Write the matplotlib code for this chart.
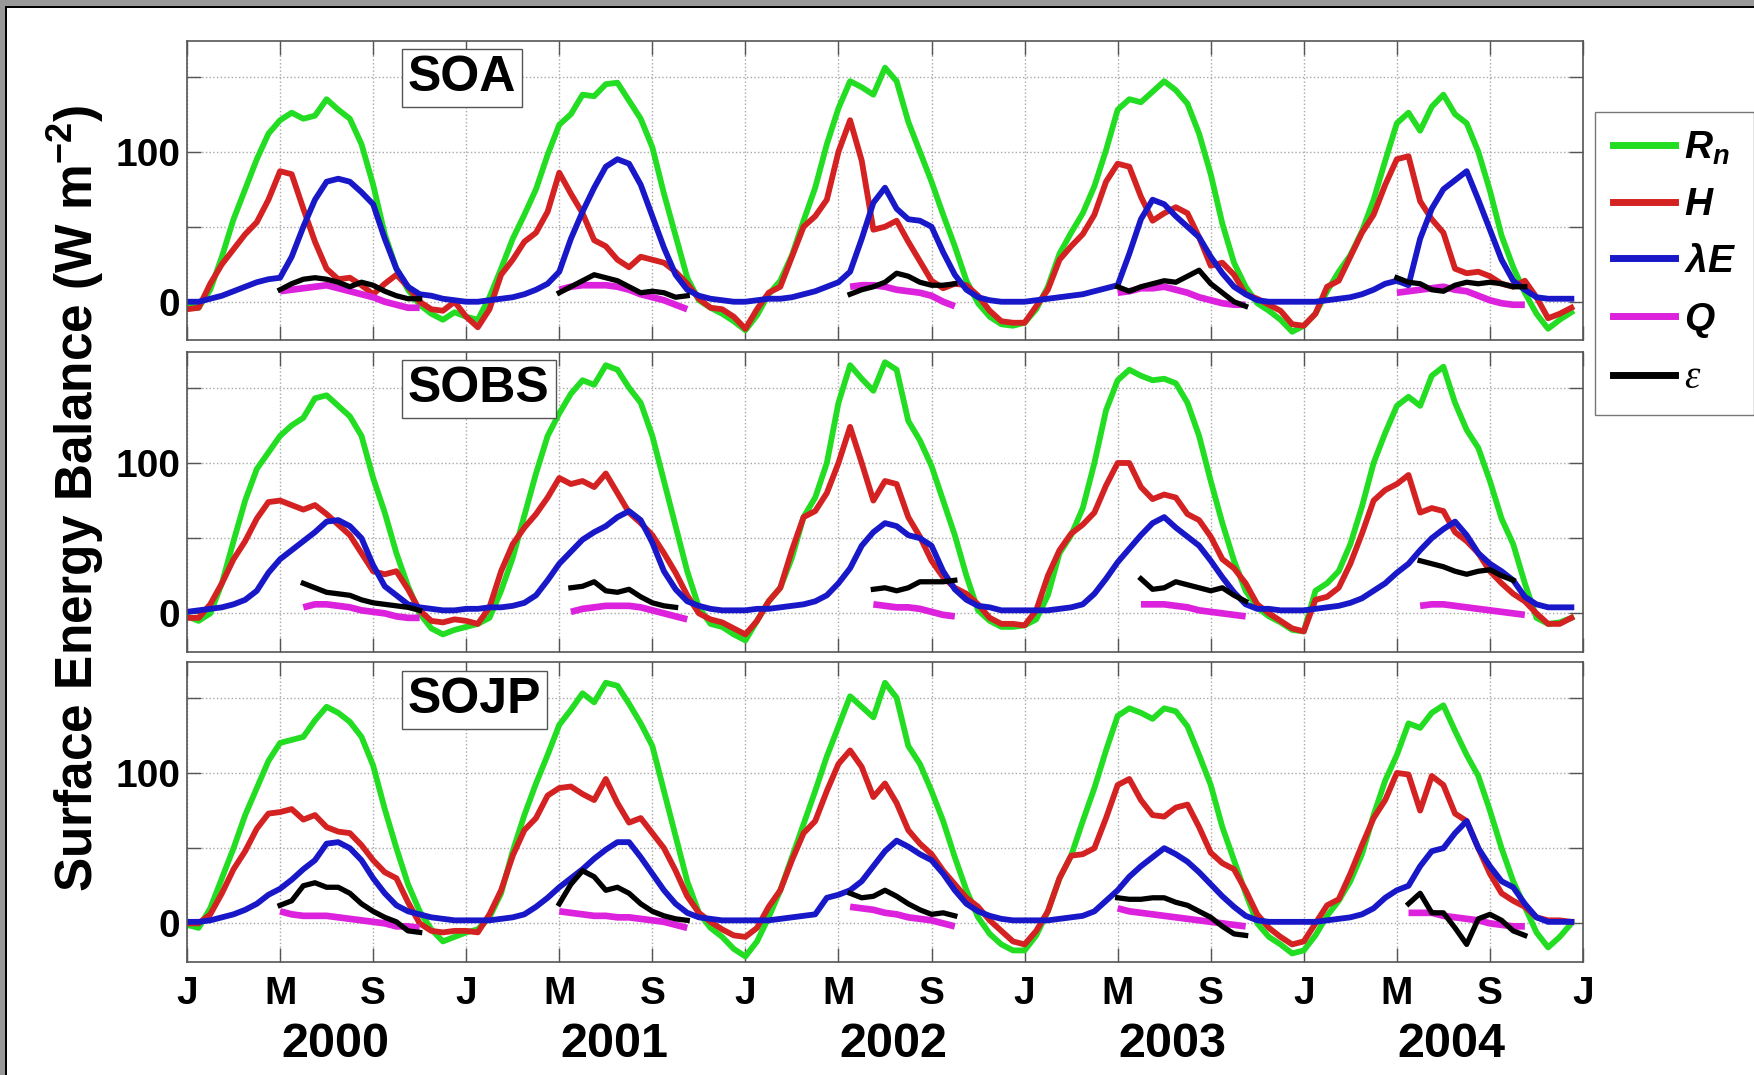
import numpy as np
import matplotlib
matplotlib.use("Agg")
import matplotlib.pyplot as plt
from matplotlib.patches import Rectangle
from matplotlib.lines import Line2D

plt.rcParams['font.family'] = 'Liberation Sans'
plt.rcParams['font.weight'] = 'bold'
plt.rcParams['mathtext.fontset'] = 'custom'
plt.rcParams['mathtext.rm'] = 'Liberation Sans:bold'
plt.rcParams['mathtext.it'] = 'Liberation Sans:italic:bold'
plt.rcParams['mathtext.bf'] = 'Liberation Sans:bold'

# half-month steps, Jan 2000 .. Dec 2004
years = [2000, 2001, 2002, 2003, 2004]
STEPS = 24

sites = ['SOA', 'SOBS', 'SOJP']
tick_letters = ['J', 'M', 'S']

# ---- SOA ----
soa_rn = [-2, -4, 8, 30, 55, 75, 95, 112, 121, 126, 122, 124, 135, 128, 122, 105, 78, 45, 22, 8, -2, -8, -12, -7,
          -10, -12, 3, 22, 42, 58, 75, 98, 118, 125, 138, 137, 145, 146, 134, 122, 103, 72, 44, 16, 1, -4, -8, -13,
          -19, -9, 5, 14, 31, 54, 76, 105, 129, 147, 143, 138, 156, 147, 120, 100, 80, 58, 37, 14, -1, -10, -15, -16,
          -14, -5, 10, 32, 46, 59, 77, 101, 128, 135, 133, 140, 147, 141, 132, 112, 85, 52, 26, 10, -1, -6, -12, -20,
          -16, -8, 7, 20, 31, 47, 68, 94, 119, 126, 114, 130, 138, 125, 119, 100, 74, 44, 23, 6, -8, -18, -12, -7]
soa_h = [-5, -4, 12, 25, 35, 45, 53, 68, 87, 85, 62, 40, 22, 15, 16, 11, 5, 12, 18, 10, 0, -5, -6, 0,
         -10, -17, -5, 18, 28, 40, 46, 60, 86, 72, 59, 41, 37, 28, 23, 30, 28, 26, 20, 12, 2, -4, -5, -10,
         -18, -5, 6, 10, 30, 50, 57, 68, 100, 121, 94, 48, 50, 54, 40, 27, 14, 9, 12, 11, 4, -6, -13, -14,
         -14, -3, 8, 28, 37, 45, 58, 80, 92, 90, 70, 54, 59, 63, 59, 43, 24, 26, 18, 5, 2, -2, -6, -15,
         -16, -8, 10, 14, 30, 46, 58, 78, 95, 97, 67, 55, 46, 22, 19, 20, 17, 12, 10, 14, 3, -11, -8, -4]
soa_le = [0, 0, 2, 4, 7, 10, 13, 15, 16, 30, 50, 68, 80, 82, 80, 73, 65, 42, 22, 10, 5, 4, 2, 1,
          0, 0, 1, 2, 3, 5, 8, 12, 20, 42, 60, 76, 90, 95, 92, 78, 57, 36, 18, 8, 4, 2, 1, 0,
          0, 1, 2, 2, 3, 5, 7, 10, 13, 20, 42, 66, 76, 62, 55, 54, 50, 33, 18, 8, 3, 1, 0, 0,
          0, 1, 2, 3, 4, 5, 7, 9, 11, 32, 55, 68, 65, 57, 50, 43, 30, 19, 10, 5, 1, 0, 0, 0,
          0, 0, 1, 2, 3, 5, 8, 12, 14, 11, 42, 62, 75, 81, 87, 68, 48, 28, 14, 8, 3, 2, 2, 2]
soa_seg_start = [8, 8, 9, 8, 8]
soa_q = [[7, 8, 9, 10, 11, 9, 7, 5, 3, 0, -2, -4, -4],
         [8, 10, 11, 11, 11, 10, 8, 5, 3, 1, -2, -5],
         [10, 11, 11, 10, 8, 7, 6, 4, 0, -3],
         [6, 7, 9, 9, 10, 8, 6, 3, 1, -1, -2, -2],
         [6, 7, 8, 9, 10, 8, 7, 4, 1, -1, -2, -2]]
soa_eps = [[8, 12, 15, 16, 15, 13, 10, 13, 11, 7, 4, 2, 2],
           [6, 10, 14, 18, 16, 14, 10, 6, 7, 6, 3, 4],
           [5, 8, 10, 13, 19, 17, 13, 11, 11, 12],
           [10, 7, 10, 12, 14, 13, 17, 21, 12, 6, 0, -3],
           [16, 13, 12, 8, 7, 11, 13, 12, 13, 12, 10, 10]]

# ---- SOBS ----
sobs_rn = [-2, -5, 0, 20, 48, 75, 96, 107, 118, 125, 130, 143, 145, 138, 131, 118, 90, 67, 40, 18, 0, -10, -14, -11,
           -9, -7, -3, 15, 37, 65, 93, 118, 133, 146, 155, 152, 165, 162, 150, 140, 118, 88, 58, 28, 4, -7, -9, -14,
           -18, -5, 8, 17, 37, 64, 77, 100, 140, 165, 156, 148, 167, 162, 128, 115, 98, 75, 52, 25, 2, -5, -9, -9,
           -8, -4, 12, 40, 52, 70, 100, 135, 155, 162, 158, 155, 156, 153, 140, 118, 88, 60, 35, 15, 4, -2, -6, -11,
           -12, 15, 20, 28, 46, 71, 100, 120, 138, 144, 138, 158, 164, 140, 122, 110, 88, 63, 46, 20, -3, -7, -6, -3]
sobs_h = [-3, -3, 6, 20, 36, 48, 63, 74, 75, 72, 69, 72, 66, 59, 52, 40, 28, 26, 28, 16, 2, -5, -6, -4,
          -5, -7, 4, 28, 46, 57, 66, 77, 90, 86, 88, 84, 93, 80, 67, 60, 52, 40, 27, 12, 0, -4, -6, -10,
          -14, -5, 8, 17, 42, 64, 68, 80, 100, 124, 100, 75, 88, 86, 64, 51, 35, 24, 17, 13, 6, -3, -7, -7,
          -8, 2, 25, 42, 53, 59, 67, 85, 100, 100, 84, 76, 79, 77, 66, 62, 51, 36, 30, 20, 6, 0, -5, -10,
          -12, 9, 11, 17, 33, 53, 75, 82, 86, 92, 67, 70, 68, 54, 48, 40, 28, 20, 13, 8, 0, -7, -7, -3]
sobs_le = [1, 2, 3, 4, 6, 9, 15, 27, 36, 42, 48, 54, 61, 62, 58, 50, 32, 18, 12, 6, 4, 3, 2, 2,
           3, 3, 4, 4, 5, 7, 12, 22, 33, 41, 49, 54, 58, 64, 68, 62, 47, 28, 16, 8, 5, 3, 2, 2,
           2, 3, 3, 4, 5, 6, 8, 12, 20, 30, 45, 54, 60, 58, 52, 50, 45, 28, 16, 9, 5, 4, 2, 2,
           2, 2, 2, 3, 4, 6, 13, 23, 34, 43, 52, 60, 64, 57, 51, 45, 35, 24, 14, 6, 3, 3, 2, 2,
           2, 3, 4, 5, 7, 10, 15, 20, 27, 33, 42, 50, 56, 61, 52, 40, 33, 28, 22, 11, 6, 4, 4, 4]
sobs_seg_start = [10, 9, 11, 10, 10]
sobs_q = [[4, 6, 6, 5, 4, 2, 1, 0, -2, -3, -3],
          [1, 3, 4, 5, 5, 5, 4, 2, 0, -2, -4],
          [6, 5, 4, 4, 3, 1, -1, -2],
          [6, 6, 6, 5, 4, 2, 1, 0, -1, -2],
          [5, 6, 6, 5, 4, 3, 2, 1, 0, -1]]
sobs_eps = [[20, 17, 14, 13, 12, 9, 7, 6, 5, 4, 2],
            [17, 18, 21, 15, 14, 16, 11, 7, 5, 4],
            [16, 17, 15, 17, 21, 21, 21, 22],
            [23, 16, 17, 21, 19, 17, 15, 17, 12, 8],
            [35, 33, 31, 28, 26, 28, 29, 25, 22]]

# ---- SOJP ----
sojp_rn = [-1, -3, 10, 30, 50, 72, 90, 108, 120, 122, 124, 135, 144, 140, 134, 124, 105, 76, 50, 26, 8, -4, -12, -9,
           -6, -4, 4, 20, 48, 72, 93, 112, 132, 142, 153, 147, 160, 158, 146, 133, 118, 88, 58, 28, 7, -3, -9, -17,
           -22, -12, 4, 22, 44, 66, 88, 111, 131, 151, 144, 137, 160, 150, 118, 106, 88, 68, 44, 22, 4, -7, -14, -18,
           -18, -8, 8, 30, 45, 68, 90, 115, 138, 143, 140, 136, 143, 141, 131, 112, 92, 64, 42, 20, 0, -9, -14, -20,
           -18, -8, 5, 15, 28, 46, 72, 95, 112, 133, 130, 140, 145, 128, 112, 98, 75, 50, 28, 11, -6, -16, -9, 0]
sojp_h = [0, 0, 6, 20, 36, 48, 63, 73, 74, 76, 69, 72, 64, 61, 60, 52, 42, 34, 30, 14, 0, -5, -6, -5,
          -5, -6, 6, 22, 45, 62, 70, 85, 90, 91, 86, 82, 96, 80, 67, 70, 60, 50, 35, 18, 7, 1, -4, -8,
          -9, -3, 11, 22, 42, 60, 68, 88, 106, 115, 104, 84, 93, 80, 62, 53, 46, 35, 26, 17, 11, 2, -5, -12,
          -14, -5, 8, 30, 45, 46, 50, 70, 92, 96, 82, 72, 71, 77, 79, 64, 47, 40, 36, 22, 6, -3, -9, -14,
          -12, 0, 12, 16, 33, 52, 70, 82, 100, 99, 75, 98, 92, 73, 68, 50, 33, 20, 15, 11, 4, 2, 2, 1]
sojp_le = [1, 1, 2, 4, 6, 9, 13, 19, 23, 29, 36, 42, 53, 54, 50, 42, 30, 20, 12, 8, 6, 4, 3, 2,
           2, 2, 2, 3, 4, 6, 11, 17, 24, 30, 36, 43, 49, 54, 54, 44, 33, 22, 13, 7, 4, 3, 2, 2,
           2, 2, 2, 3, 4, 5, 6, 17, 19, 22, 28, 38, 48, 55, 51, 46, 42, 33, 22, 13, 8, 5, 3, 2,
           2, 2, 2, 3, 4, 5, 8, 15, 22, 31, 38, 44, 50, 46, 41, 34, 26, 18, 11, 5, 2, 1, 1, 1,
           1, 1, 2, 3, 4, 6, 10, 17, 22, 25, 38, 48, 50, 60, 68, 50, 38, 28, 24, 13, 4, 1, 1, 1]
sojp_seg_start = [8, 8, 9, 8, 9]
sojp_q = [[8, 6, 5, 5, 5, 4, 3, 2, 1, 0, -2, -2, -3],
          [8, 7, 6, 5, 5, 4, 4, 3, 2, 1, -1, -3],
          [11, 10, 9, 7, 6, 4, 3, 2, 0, -2],
          [10, 8, 7, 6, 5, 4, 3, 2, 1, 0, -1, -2],
          [7, 7, 7, 5, 4, 3, 2, 0, -1, -2, -2]]
sojp_eps = [[12, 15, 25, 27, 24, 24, 20, 13, 8, 4, 1, -5, -6],
            [13, 26, 35, 31, 22, 24, 20, 13, 8, 5, 3, 2],
            [20, 17, 18, 22, 18, 13, 9, 6, 7, 5],
            [17, 16, 16, 17, 17, 14, 12, 8, 4, -2, -7, -8],
            [13, 20, 7, 7, -3, -14, 3, 6, 2, -5, -8]]

panels = [
    (soa_rn, soa_h, soa_le, soa_seg_start, soa_q, soa_eps),
    (sobs_rn, sobs_h, sobs_le, sobs_seg_start, sobs_q, sobs_eps),
    (sojp_rn, sojp_h, sojp_le, sojp_seg_start, sojp_q, sojp_eps),
]

c_rn = '#22dd22'
c_h = '#d42222'
c_le = '#1818c8'
c_q = '#dc22dc'
c_eps = 'black'

fig = plt.figure(figsize=(17.54, 10.75), dpi=100)
fig.patch.set_facecolor('white')

W, H = 1754.0, 1075.0
left = 187 / W
width = (1583 - 187) / W
tops = [40.7, 351.7, 661.7]
heights = [299.3, 300.0, 300.0]
label_xy = [(0.197, 0.877), (0.209, 0.876), (0.206, 0.873)]

t_main = 2000 + np.arange(len(soa_rn)) / STEPS
axes = []
for i, (rn, h, le, seg_start, q, eps) in enumerate(panels):
    ax = fig.add_axes([left, 1 - (tops[i] + heights[i]) / H, width, heights[i] / H])
    axes.append(ax)
    ax.plot(t_main, rn, color=c_rn, lw=4.2, solid_joinstyle='round')
    ax.plot(t_main, h, color=c_h, lw=4.2, solid_joinstyle='round')
    ax.plot(t_main, le, color=c_le, lw=4.2, solid_joinstyle='round')
    for j, yr in enumerate(years):
        tq = yr + (seg_start[j] + np.arange(len(q[j]))) / STEPS
        ax.plot(tq, q[j], color=c_q, lw=4.8, solid_capstyle='butt', solid_joinstyle='round')
        te = yr + (seg_start[j] + np.arange(len(eps[j]))) / STEPS
        ax.plot(te, eps[j], color=c_eps, lw=3.8, solid_joinstyle='round')

    ax.set_xlim(2000, 2005)
    ax.set_ylim(-25.5, 174)
    ax.set_xticks(2000 + np.arange(16) / 3)
    ax.set_xticklabels(tick_letters * 5 + ['J'])
    ax.set_yticks([0, 50, 100, 150])
    ax.set_yticklabels(['0', '', '100', ''])
    ax.grid(True, linestyle=':', color='#a8a8a8', linewidth=1.0)
    ax.tick_params(axis='both', direction='in', length=10, width=1, colors='#555555',
                   labelcolor='black', top=True, right=True, labelsize=28)
    ax.tick_params(axis='x', pad=10)
    ax.tick_params(axis='y', pad=5)
    for sp in ax.spines.values():
        sp.set_color('#555555')
        sp.set_linewidth(1.2)
    if i < 2:
        ax.tick_params(labelbottom=False)
    ax.text(label_xy[i][0], label_xy[i][1], sites[i], transform=ax.transAxes,
            ha='center', va='center', fontsize=36,
            bbox=dict(boxstyle='square,pad=0.12', fc='white', ec='#555555', lw=1))

for yr in years:
    axes[2].text(yr + 0.53, -0.275, str(yr), transform=axes[2].get_xaxis_transform(),
                 ha='center', va='center', fontsize=35)

fig.text(0.0434, 0.537, r'Surface Energy Balance (W m$^{-2}$)', rotation=90,
         ha='center', va='center', fontsize=37)

handles = [Line2D([], [], color=c_rn, lw=5), Line2D([], [], color=c_h, lw=5),
           Line2D([], [], color=c_le, lw=5), Line2D([], [], color=c_q, lw=5),
           Line2D([], [], color=c_eps, lw=5)]
labels = [r'$R_n$', r'$H$', r'$\lambda E$', r'$Q$', 'ε']
leg = fig.legend(handles, labels, loc='upper left', bbox_to_anchor=(1595 / W, 1 - 112 / H),
                 bbox_transform=fig.transFigure, frameon=True, fancybox=False,
                 edgecolor='#555555', fontsize=28, handlelength=1.6, handletextpad=0.25,
                 borderpad=0.45, labelspacing=0.53, borderaxespad=0)
leg.get_frame().set_linewidth(1.0)
eps_txt = leg.get_texts()[4]
eps_txt.set_fontfamily('Liberation Serif')
eps_txt.set_fontstyle('italic')
eps_txt.set_fontweight('normal')

# gray window border (top and left)
fig.add_artist(Rectangle((0, 1 - 6 / H), 1, 6 / H, transform=fig.transFigure, color='#999999', lw=0))
fig.add_artist(Rectangle((0, 1 - 8 / H), 1, 2 / H, transform=fig.transFigure, color='black', lw=0))
fig.add_artist(Rectangle((0, 0), 5 / W, 1, transform=fig.transFigure, color='#999999', lw=0))
fig.add_artist(Rectangle((5 / W, 0), 2 / W, 1 - 6 / H, transform=fig.transFigure, color='black', lw=0))

fig.savefig('out.png', dpi=100)
